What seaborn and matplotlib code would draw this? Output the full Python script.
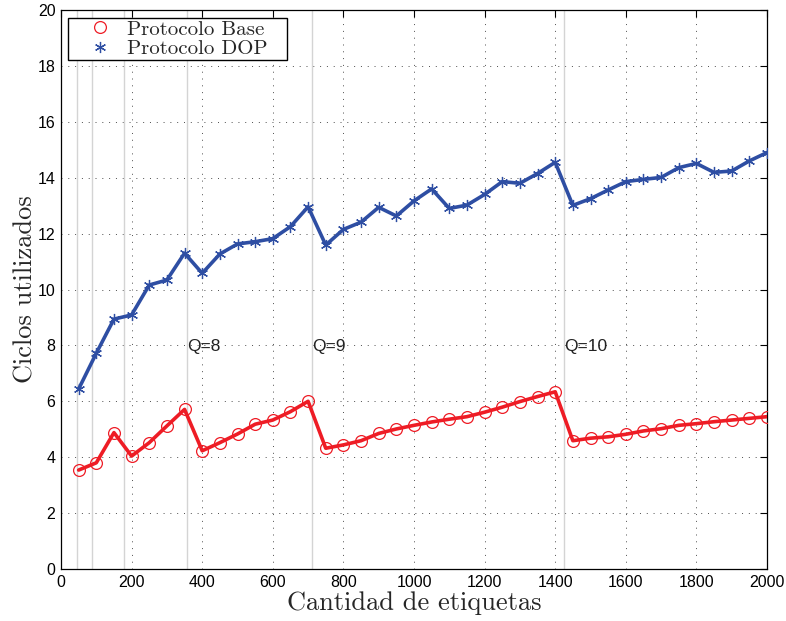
import matplotlib
matplotlib.use("Agg")
import matplotlib.pyplot as plt
from matplotlib.lines import Line2D
import seaborn as sns
import pandas as pd

# Number of tags in each experiment
etiquetas = [50, 100, 150, 200, 250, 300, 350, 400, 450, 500,
             550, 600, 650, 700, 750, 800, 850, 900, 950, 1000,
             1050, 1100, 1150, 1200, 1250, 1300, 1350, 1400, 1450, 1500,
             1550, 1600, 1650, 1700, 1750, 1800, 1850, 1900, 1950, 2000]

# Cycles used by the base protocol
ciclos_base = [3.54, 3.80, 4.88, 4.04, 4.52, 5.12, 5.71, 4.23, 4.52, 4.83,
               5.18, 5.33, 5.63, 6.00, 4.32, 4.44, 4.59, 4.85, 5.01, 5.14,
               5.26, 5.36, 5.45, 5.61, 5.79, 5.99, 6.17, 6.34, 4.59, 4.68,
               4.73, 4.82, 4.94, 5.02, 5.14, 5.20, 5.27, 5.33, 5.39, 5.45]

# Cycles used by the DOP protocol
ciclos_dop = [6.44, 7.72, 8.94, 9.09, 10.16, 10.34, 11.30, 10.58, 11.27, 11.63,
              11.71, 11.82, 12.25, 12.96, 11.59, 12.15, 12.41, 12.94, 12.63, 13.17,
              13.60, 12.90, 13.02, 13.40, 13.86, 13.80, 14.15, 14.55, 13.01, 13.25,
              13.56, 13.86, 13.94, 14.01, 14.36, 14.51, 14.19, 14.24, 14.60, 14.90]

# Tag counts where the frame size Q changes
umbrales_q = [45, 89, 178, 357, 712, 1426]
etiquetas_q = {357: "Q=8", 712: "Q=9", 1426: "Q=10"}

serie_nombres = ["Protocolo Base", "Protocolo DOP"]
colores = ["#ee1c25", "#2e4ea3"]

df = pd.DataFrame({
    "etiquetas": etiquetas * 2,
    "ciclos": ciclos_base + ciclos_dop,
    "protocolo": [serie_nombres[0]] * len(etiquetas) + [serie_nombres[1]] * len(etiquetas),
})

sns.set_theme(style="white")
plt.rcParams["font.family"] = ["Liberation Sans", "DejaVu Sans"]

fig = plt.figure(figsize=(7.86, 6.21), dpi=100)
ax = fig.add_axes([61 / 786, 1 - 569 / 621, 706 / 786, 559 / 621])

for xq in umbrales_q:
    ax.axvline(xq, color="#d4d4d4", lw=1.0, zorder=1)

asterisco = (6, 2, 0)
estilos = {
    serie_nombres[0]: dict(marker="o", markersize=8.5, markerfacecolor="none",
                           markeredgecolor=colores[0], markeredgewidth=0.9),
    serie_nombres[1]: dict(marker=asterisco, markersize=8, markeredgecolor=colores[1],
                           markeredgewidth=0.9),
}
for nombre, color in zip(serie_nombres, colores):
    sub = df[df["protocolo"] == nombre]
    sns.lineplot(data=sub, x="etiquetas", y="ciclos", ax=ax, color=color,
                 lw=2.6, legend=False, zorder=3, **estilos[nombre])

for xq, txt in etiquetas_q.items():
    ax.text(xq, 7.95, txt, fontsize=12.5, color="#222222", ha="left", va="center", zorder=4)

ax.set_xlim(0, 2000)
ax.set_ylim(0, 20)
ax.set_xticks(range(0, 2001, 200))
ax.set_yticks(range(0, 21, 2))
ax.grid(True, which="major", color="black", linestyle=(0, (1, 6)), lw=0.7, alpha=0.7)
ax.tick_params(direction="in", length=5, width=0.8, top=True, right=True,
               labelsize=11.5, colors="black", pad=4)
for s in ax.spines.values():
    s.set_color("black")
    s.set_linewidth(0.9)

ax.set_xlabel("Cantidad de etiquetas", fontsize=19, family="cmr10", labelpad=1)
ax.set_ylabel("Ciclos utilizados", fontsize=19, family="cmr10", labelpad=0)

# Marker-only legend, stretched to a fixed box in the upper-left corner
handles = [Line2D([], [], linestyle="none", **estilos[n]) for n in serie_nombres]
leg = ax.legend(handles, serie_nombres, loc="upper left",
                bbox_to_anchor=(0.0103, 0.90, 0.3098, 0.0852), mode="expand",
                borderaxespad=0, frameon=True, fancybox=False, framealpha=1,
                edgecolor="black", prop={"family": "cmr10", "size": 15},
                numpoints=1, handlelength=2.87, handletextpad=-0.12, labelspacing=0.05,
                borderpad=0.08)
leg.get_frame().set_linewidth(1.0)

fig.savefig("out.png", dpi=100)
